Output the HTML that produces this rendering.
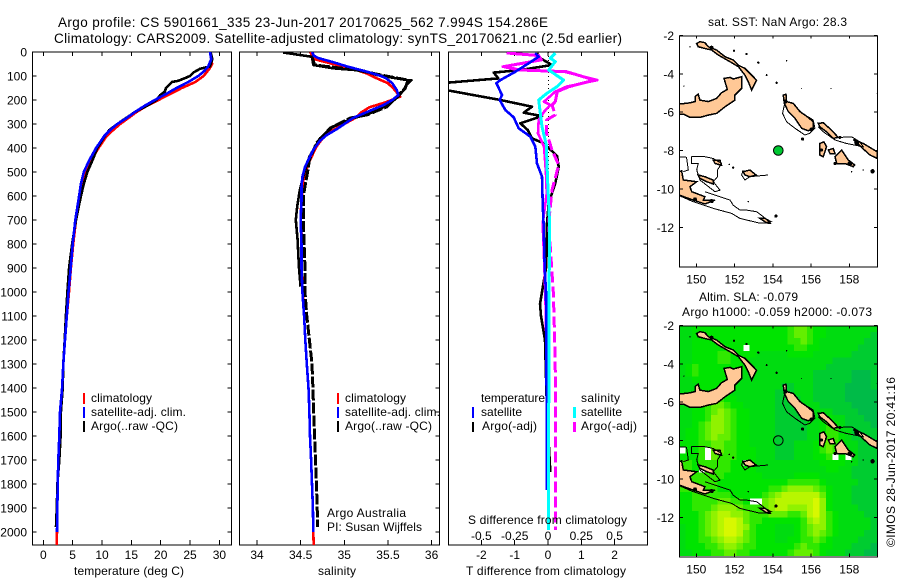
<!DOCTYPE html>
<html lang="en">
<head>
<meta charset="utf-8">
<title>Argo profile 5901661_335</title>
<style>
html,body{margin:0;padding:0;background:#fff;}
svg{display:block;}
text{font-family:"Liberation Sans",sans-serif;font-size:12px;fill:#000;}
</style>
</head>
<body>
<svg id="figure" xmlns="http://www.w3.org/2000/svg" width="900" height="580" viewBox="0 0 900 580">
  <defs>
    <clipPath id="clip-t"><rect x="32" y="52" width="199.5" height="493"/></clipPath>
    <clipPath id="clip-s"><rect x="239" y="52" width="200.5" height="493"/></clipPath>
    <clipPath id="clip-d"><rect x="448" y="52" width="199.5" height="493"/></clipPath>
    <clipPath id="clip-m1"><rect x="679" y="35" width="198.5" height="232"/></clipPath>
    <clipPath id="clip-m2"><rect x="679" y="325" width="198.5" height="232"/></clipPath>
  </defs>
  <g id="plots"></g>
  <text x="58" y="27" textLength="490" lengthAdjust="spacing" style="font-size:13.5px">Argo profile: CS 5901661_335 23-Jun-2017 20170625_562 7.994S 154.286E</text>
  <text x="54" y="43" textLength="568" lengthAdjust="spacing" style="font-size:13.5px">Climatology: CARS2009. Satellite-adjusted climatology: synTS_20170621.nc (2.5d earlier)</text>
  <text x="74" y="575" textLength="110" lengthAdjust="spacing">temperature (deg C)</text>
  <text x="318" y="575" textLength="38" lengthAdjust="spacing">salinity</text>
  <text x="466" y="575" textLength="160" lengthAdjust="spacing">T difference from climatology</text>
  <text x="468" y="524" textLength="159" lengthAdjust="spacing">S difference from climatology</text>
  <g>
    <rect x="83" y="393" width="2" height="11" fill="#f00"/>
    <rect x="83" y="407" width="2" height="11" fill="#00f"/>
    <rect x="83" y="421" width="2" height="11" fill="#000"/>
    <text x="91" y="402" textLength="61" lengthAdjust="spacing">climatology</text>
    <text x="91" y="416" textLength="95" lengthAdjust="spacing">satellite-adj. clim.</text>
    <text x="91" y="430" textLength="87" lengthAdjust="spacing">Argo(..raw -QC)</text>
  </g>
  <g>
    <rect x="337" y="393" width="2" height="11" fill="#f00"/>
    <rect x="337" y="407" width="2" height="11" fill="#00f"/>
    <rect x="337" y="421" width="2" height="11" fill="#000"/>
    <text x="345" y="402" textLength="61" lengthAdjust="spacing">climatology</text>
    <text x="345" y="416" textLength="95" lengthAdjust="spacing">satellite-adj. clim.</text>
    <text x="345" y="430" textLength="87" lengthAdjust="spacing">Argo(..raw -QC)</text>
    <text x="327" y="517" textLength="79" lengthAdjust="spacing">Argo Australia</text>
    <text x="327" y="531" textLength="95" lengthAdjust="spacing">PI: Susan Wijffels</text>
  </g>
  <g>
    <text x="481" y="402" textLength="64" lengthAdjust="spacing">temperature</text>
    <text x="581" y="402" textLength="39" lengthAdjust="spacing">salinity</text>
    <rect x="472" y="407" width="2" height="11" fill="#00f"/>
    <rect x="472" y="422" width="2" height="10" fill="#000"/>
    <rect x="573" y="407" width="3" height="11" fill="#0ff"/>
    <rect x="573" y="422" width="3" height="10" fill="#f0f"/>
    <text x="481" y="416" textLength="41" lengthAdjust="spacing">satellite</text>
    <text x="482" y="430" textLength="55" lengthAdjust="spacing">Argo(-adj)</text>
    <text x="581" y="416" textLength="41" lengthAdjust="spacing">satellite</text>
    <text x="581" y="430" textLength="56" lengthAdjust="spacing">Argo(-adj)</text>
  </g>
  <text x="708" y="26" textLength="139" lengthAdjust="spacing">sat. SST: NaN Argo: 28.3</text>
  <text x="699" y="301" textLength="99" lengthAdjust="spacing">Altim. SLA: -0.079</text>
  <text x="682" y="316" textLength="190" lengthAdjust="spacing">Argo h1000: -0.059 h2000: -0.073</text>
  <text transform="translate(895 547) rotate(-90)" textLength="170" lengthAdjust="spacing">©IMOS 28-Jun-2017 20:41:16</text>
</svg>
<script>
// ---------- chart data ----------
const depthTicks = [0,100,200,300,400,500,600,700,800,900,1000,1100,1200,1300,1400,1500,1600,1700,1800,1900,2000];
const tempTicks = [0,5,10,15,20,25,30];
const salTicks = [34,34.5,35,35.5,36];
const tDiffTicks = [-2,-1,0,1,2];
const sDiffTicks = [-0.5,-0.25,0,0.25,0.5];
const sDiffTickLabels = ['-0.5','-0.25','0','0.25','0.5'];
const lonTicks = [150,152,154,156,158];
const latTicks = [-2,-4,-6,-8,-10,-12];

const tempClimDepths = [0,50,70,100,125,150,175,200,225,250,275,300,325,350,400,450,500,550,600,700,800,900,1000,1100,1200,1300,1400,1500,1600,1700,1800,2000,2055];
const tempClimValues = [28.5,28.75,28.3,27.3,25.9,23.6,21.6,19.6,17.6,15.9,14.5,13.1,11.9,10.8,9.4,8.2,7.3,6.65,6.25,5.57,5.1,4.7,4.37,4.0,3.7,3.4,3.2,2.85,2.73,2.56,2.45,2.33,2.27];
const tempSatDepths = [0,30,60,80,100,125,150,175,200,225,250,275,300,325,350,400,450,500,550,600,700,800,900,1000,1100,1200,1300,1400,1500,1600,1700,1800,2000];
const tempSatValues = [28.4,28.6,28.1,27.4,26.4,24.7,22.7,20.9,19.0,17.2,15.6,14.2,12.6,11.4,10.4,9.0,7.85,6.9,6.4,6.1,5.45,5.0,4.66,4.3,4.0,3.7,3.4,3.2,2.85,2.73,2.56,2.45,2.33];
const tempArgoDepths = [0,30,60,70,85,100,120,125,150,165,180,200,225,250,275,300,325,350,400,450,500,550,600,700,800,900,1000,1100,1200,1300,1400,1500,1600,1700,1800,1900,1980];
const tempArgoValues = [28.5,28.8,28.4,26.7,25.6,25,23,21.9,20.9,20.7,19.9,19.3,17.6,15.6,14.1,12.6,11.25,10.5,9.2,8.4,7.5,6.9,6.4,5.57,4.9,4.4,4.1,3.85,3.65,3.4,3.3,3.0,2.95,2.72,2.4,2.3,2.16];

const salClimDepths = [0,15,30,50,70,90,103,130,151,186,210,230,250,272,318,346,394,464,533,617,686,756,894,978,1100,1200,1300,1400,1500,1600,1700,1800,1900,2000,2055];
const salClimValues = [34.61,34.63,34.66,34.87,35.1,35.26,35.33,35.5,35.56,35.64,35.47,35.29,35.2,35.14,34.91,34.78,34.68,34.59,34.53,34.51,34.5,34.51,34.51,34.52,34.54,34.553,34.57,34.59,34.6,34.607,34.62,34.63,34.64,34.645,34.65];
const salSatDepths = [0,15,25,40,60,82,100,110,130,158,179,200,221,250,275,300,320,346,370,408,440,479,520,562,620,700,800,900,1000,1100,1200,1300,1400,1500,1600,1700,1800,1900,2000];
const salSatValues = [34.63,34.65,34.7,34.85,35.03,35.26,35.42,35.48,35.55,35.6,35.62,35.55,35.45,35.26,35.1,35.0,34.92,34.8,34.72,34.645,34.6,34.55,34.52,34.51,34.51,34.5,34.51,34.51,34.52,34.54,34.553,34.57,34.59,34.6,34.607,34.62,34.63,34.64,34.645];
const salArgoRawDepths = [2,20,54,68,78,96,117,117,138,158,186,221,262,276,311,360,436,492,575,644,700,783,894,978];
const salArgoRawValues = [34.3,34.63,34.645,34.87,35.22,35.37,35.72,35.77,35.71,35.68,35.62,35.5,35.25,35.1,34.87,34.72,34.6,34.55,34.49,34.46,34.445,34.465,34.48,34.5];
const salArgoQcDepths = [20,54,75,103,117,150,179,228,262,275,317,380,450,500,600,700,800,900,1000,1100,1200,1300,1400,1500,1600,1700,1800,1900,1980];
const salArgoQcValues = [34.63,34.66,35.14,35.52,35.73,35.7,35.62,35.49,35.26,35.07,34.84,34.68,34.6,34.58,34.53,34.53,34.54,34.55,34.55,34.57,34.6,34.63,34.64,34.65,34.66,34.67,34.68,34.69,34.695];

const diffTempSatDepths = [5,19,47,82,117,130,179,200,242,272,318,353,394,464,519,631,728,900,1000,1200,1500,1825];
const diffTempSatValues = [-0.38,-0.28,-0.58,-0.98,-1.43,-1.55,-1.38,-1.45,-1.28,-1.03,-0.88,-0.53,-0.38,-0.33,-0.18,-0.16,-0.13,-0.1,-0.06,-0.05,-0.04,-0.04];
const diffTempArgoDepths = [5,26,54,75,86,110,130,155,200,228,253,267,297,325,360,380,433,478,547,630,714,800,900,1000,1050,1100,1200,1350,1500,1650,1750];
const diffTempArgoValues = [-0.33,-0.23,0.12,-0.83,-1.63,-1.49,-3.2,-3.2,-1.43,-0.48,-0.73,-0.18,-0.83,-0.61,-0.48,-0.13,0.27,0.32,0.22,0.02,-0.03,-0.03,-0.06,-0.18,-0.24,-0.21,-0.09,-0.06,-0.03,0.03,0.07];
const diffSalSatDepths = [5,26,40,75,117,144,172,200,255,311,387,533,714,1000,1300,1700,1992];
const diffSalSatValues = [0.055,0.017,0.055,0.005,0.117,0.068,-0.008,-0.07,-0.058,-0.045,-0.013,-0.003,0.012,0.008,0.006,0.005,0.005];
const diffSalArgoRawDepths = [5,15,33,61,75,82,117,144,165,207,221,249,283,339,394,505,589,714,1000,1300,1650];
const diffSalArgoRawValues = [-0.31,-0.08,-0.06,-0.34,-0.23,0.12,0.37,0.14,0.055,-0.03,0.017,-0.03,-0.07,-0.075,-0.03,-0.015,-0.01,-0.04,-0.02,-0.01,0.005];
const diffSalArgoUpperDepths = [5,15,33,61,75,82,117,144,165,207];
const diffSalArgoUpperValues = [-0.29,-0.07,-0.05,-0.33,-0.21,0.14,0.35,0.16,0.07,0.055];
const diffSalArgoQcDepths = [207,221,262,283,339,408,471,575,714,1000,1200,1400,1700,1992];
const diffSalArgoQcValues = [0.055,0.03,0.055,-0.01,-0.01,0.03,0.08,0.03,0.005,0.04,0.05,0.057,0.055,0.055];

const argoLon = 154.286;
const argoLat = -7.994;

// sea-level-anomaly colour level per grid cell, north to south (null = no data)
const _ = null;
const slaLevels = [
[3,3,4,4,4,4,4,4,4,4,4,4,4,4,4,4,4,5,6,6,5,4,4,3,3,3,3,3,3,3,3],
[3,3,4,_,4,4,4,4,4,4,4,4,4,4,4,4,4,5,6,6,5,4,4,3,3,3,3,3,3,3,2],
[3,3,4,4,4,4,4,4,4,4,4,4,4,4,4,4,4,5,5,6,5,4,3,3,3,3,3,3,3,2,2],
[3,3,4,4,4,4,4,4,4,4,_,4,4,4,4,4,4,4,5,5,4,4,3,3,3,3,3,3,2,2,2],
[3,3,4,4,4,4,5,5,4,4,4,4,3,3,3,3,3,4,4,4,4,3,3,3,3,3,3,2,2,2,2],
[3,3,4,4,4,4,5,5,4,4,4,3,3,3,3,3,3,3,3,3,3,3,3,3,2,2,2,2,2,2,2],
[3,4,5,4,4,4,4,4,4,4,4,3,3,3,3,3,3,3,3,3,3,3,3,2,2,2,2,2,2,2,2],
[3,4,5,4,4,4,4,4,4,4,3,3,3,3,3,3,3,3,3,3,3,2,2,2,2,2,2,1,1,1,2],
[3,3,4,4,4,4,4,4,4,3,3,3,3,3,3,3,3,3,3,3,3,2,2,2,2,2,2,1,1,1,2],
[3,3,3,4,4,4,4,4,4,3,3,3,3,3,3,3,2,2,3,3,3,2,2,2,2,2,1,1,1,1,2],
[3,3,3,4,4,4,4,4,3,3,3,3,3,3,3,2,2,2,3,3,3,2,2,2,2,2,1,1,1,1,1],
[3,3,3,4,4,5,5,4,4,3,3,3,3,3,3,2,2,2,2,3,3,2,2,2,2,2,1,1,1,1,1],
[3,3,3,4,5,6,6,5,4,4,3,3,3,3,3,2,2,2,2,3,3,3,2,2,2,2,2,1,1,1,1],
[3,3,4,4,5,6,7,6,5,4,4,3,3,3,3,2,2,2,2,2,3,3,3,3,2,2,2,2,1,1,1],
[3,3,4,4,5,7,7,6,5,4,4,3,3,3,3,2,2,2,2,2,3,3,4,4,3,3,2,2,2,1,1],
[3,3,4,5,6,7,7,6,5,4,4,3,3,3,3,2,2,2,2,2,3,3,4,5,4,3,2,2,2,2,1],
[3,4,4,5,6,7,7,6,5,4,4,3,3,3,3,2,2,2,2,2,3,3,4,5,5,3,3,2,2,2,2],
[3,4,4,5,6,7,6,6,5,4,4,3,3,3,3,2,2,2,2,2,3,3,4,5,5,4,3,2,2,2,2],
[4,4,4,5,5,6,6,5,5,4,4,3,3,3,3,2,2,2,3,3,3,4,5,6,5,4,3,3,2,2,2],
[_,4,4,5,_,6,6,5,5,4,4,4,3,3,3,2,2,2,3,3,3,4,5,6,5,4,3,3,2,2,2],
[4,4,4,5,_,6,5,5,5,4,4,4,3,3,3,2,2,2,3,3,3,4,4,5,_,4,_,3,2,2,2],
[5,5,4,5,5,5,5,5,4,4,_,4,3,3,3,3,3,3,3,3,3,3,4,4,4,4,3,3,2,2,2],
[5,5,4,_,5,5,5,5,4,4,4,4,3,3,3,3,3,3,3,3,3,3,3,4,4,3,3,2,2,2,2],
[5,5,5,5,5,5,5,4,4,4,4,4,4,3,3,3,3,3,4,4,4,4,3,3,3,3,3,2,2,2,2],
[5,5,5,5,5,5,4,4,4,4,4,4,4,4,4,4,4,5,5,5,5,5,4,3,3,3,3,3,2,2,2],
[5,5,5,5,5,5,4,4,4,4,4,4,4,4,5,5,6,7,7,7,7,6,5,4,3,3,3,2,2,2,2],
[4,4,5,5,5,5,5,5,4,4,4,4,4,5,6,7,8,8,8,8,8,8,6,4,3,3,3,2,2,2,2],
[4,4,5,5,5,5,6,6,5,5,4,_,_,6,7,8,8,8,8,8,8,9,7,4,3,3,3,2,2,2,2],
[4,4,5,5,5,6,7,7,7,6,5,5,5,6,7,8,8,7,7,7,8,9,7,4,3,3,3,3,2,2,2],
[4,4,4,5,6,7,8,8,7,7,6,5,5,5,6,6,6,5,5,6,8,9,7,5,4,3,3,3,3,2,2],
[4,4,4,5,6,7,8,9,9,8,6,5,5,4,4,4,4,4,4,5,7,8,7,5,4,3,3,3,3,3,2],
[3,4,4,5,6,7,8,9,9,8,7,5,4,4,4,3,3,3,4,5,6,7,7,5,4,3,3,3,3,3,2],
[3,4,4,5,6,7,8,9,9,8,6,5,4,4,4,3,3,3,4,5,6,7,6,5,4,3,3,3,3,2,2],
[3,4,4,5,5,6,7,8,8,7,6,5,4,4,4,3,3,4,4,5,5,6,5,4,3,3,3,3,2,2,2],
[3,4,4,4,5,5,6,7,7,6,5,5,4,4,4,4,4,4,5,6,5,5,4,4,3,3,3,2,2,2,1],
[3,3,4,4,4,5,5,6,6,5,5,4,4,4,4,4,4,5,6,6,6,5,4,3,3,3,2,2,2,1,1]
];
const slaPalette = ['#00a85c','#00bb48','#00cc30','#00dc10','#00e400','#30e800','#64ee00','#90f200','#b8f600','#d8f800'];
const slaGridWest = 149.11;
const slaGridStepDeg = 1/3;

// coast polygons, lon/lat pairs
const landPolygons = [
[[150.02,-2.42],[150.19,-2.33],[150.45,-2.38],[150.63,-2.59],[151.06,-2.76],[151.5,-3.11],[151.93,-3.28],[152.2,-3.55],[152.54,-3.72],[152.89,-4.07],[153.15,-4.33],[152.89,-4.85],[152.72,-4.41],[152.54,-4.07],[152.2,-3.63],[151.76,-3.37],[151.15,-3.02],[150.8,-2.76],[150.45,-2.68],[150.1,-2.59]],
[[149.11,-5.58],[149.67,-5.51],[149.93,-5.45],[149.93,-5.19],[150.1,-5.06],[150.19,-5.37],[150.63,-5.45],[151.06,-5.28],[151.32,-4.99],[151.62,-4.81],[151.45,-4.24],[151.76,-4.19],[151.93,-4.27],[152.37,-4.15],[152.37,-4.76],[152.02,-5.11],[152.02,-5.37],[151.5,-5.72],[151.06,-6.06],[150.63,-6.15],[150.19,-6.27],[149.67,-6.27],[149.32,-6.1],[149.11,-6.1]],
[[154.55,-5.11],[154.69,-5.07],[154.72,-5.45],[155.07,-5.54],[155.42,-5.97],[155.85,-6.27],[156.11,-6.5],[156.11,-6.84],[155.85,-6.97],[155.51,-6.84],[155.16,-6.32],[154.81,-5.97],[154.6,-5.54]],
[[156.38,-6.58],[156.64,-6.55],[157.07,-6.93],[157.42,-7.31],[157.16,-7.36],[156.81,-7.02],[156.46,-6.76]],
[[158.21,-7.42],[158.73,-7.63],[159.46,-8.06],[159.46,-8.41],[159.08,-8.23],[158.55,-7.75]],
[[156.46,-7.63],[156.67,-7.54],[156.81,-7.8],[156.64,-8.32],[156.46,-8.23]],
[[156.9,-7.97],[157.16,-7.89],[157.25,-8.15],[156.99,-8.15]],
[[157.25,-8.32],[157.6,-7.97],[157.94,-8.49],[158.29,-8.75],[158.21,-8.84],[157.77,-8.67],[157.34,-8.67]],
[[149.11,-9.1],[149.23,-9.05],[149.32,-9.53],[150.02,-9.62],[149.67,-9.88],[149.76,-10.14],[150.45,-10.4],[150.37,-10.58],[150.98,-10.58],[150.45,-10.78],[149.84,-10.58],[149.11,-10.32]],
[[150.1,-9.27],[150.45,-9.36],[150.89,-9.54],[150.89,-9.74],[150.54,-9.62],[150.19,-9.45]],
[[150.89,-8.5],[151.24,-8.5],[151.32,-8.76],[150.98,-8.67]],
[[153.33,-11.53],[153.59,-11.53],[153.88,-11.7],[153.68,-11.76]],
[[152.46,-9.1],[152.8,-9.01],[153.12,-9.27],[152.8,-9.36],[152.54,-9.27]]
];
const reefLines = [
[[149.11,-10.35],[149.84,-10.66],[150.89,-11.01],[151.85,-11.27],[152.28,-11.53],[153.24,-11.76],[153.88,-11.79],[153.5,-11.44],[153.15,-11.18],[152.63,-11.1],[152.28,-11.1],[151.93,-10.84],[151.76,-10.58],[150.98,-10.32],[150.45,-10.14]],
[[149.11,-8.32],[149.49,-8.35],[149.58,-9.01],[149.32,-9.1]],
[[149.76,-8.32],[150.45,-8.32],[150.89,-8.41],[151.32,-8.67],[151.11,-9.01],[151.11,-9.36],[150.89,-9.62],[151.24,-10.06],[150.98,-10.14],[150.19,-9.53],[150.02,-9.01],[150.1,-8.67],[149.76,-8.67],[149.76,-8.32]],
[[154.6,-5.63],[154.51,-6.06],[154.72,-6.5],[155.16,-6.84],[155.68,-7.19],[155.94,-7.1],[156.2,-6.84],[156.11,-6.41],[155.85,-6.24]],
[[156.38,-6.76],[156.64,-7.02],[157.25,-7.45],[157.86,-7.63],[158.73,-7.8],[158.55,-7.54],[158.12,-7.28],[157.51,-7.31]],
[[152.46,-9.01],[152.37,-9.27],[152.54,-9.53],[152.8,-9.36],[153.76,-9.27]]
];
const isletLons = [149.67,151.97,152.63,153.24,153.68,154.2,154.72,149.35,155.51,157.04,155.56,154.16,159.22,158.12,158.73,151.93,151.72,152.72,159.46,154.66,156.03,158.38,150.8,149.93,150.8,157.51,156.55,158.03,157.25];
const isletLats = [-2.59,-2.8,-2.97,-3.42,-4.07,-4.47,-3.32,-4.64,-4.76,-4.76,-7.4,-11.41,-9.08,-9.1,-9.01,-8.89,-8.72,-10.66,-5.02,-5.45,-6.9,-7.59,-2.64,-10.54,-10.63,-7.31,-7.97,-8.67,-8.67];
const isletSizes = [0.7,1.2,1.2,1.2,1,1.2,0.7,0.7,0.5,0.5,1.6,1.6,2.2,0.7,0.7,1.2,0.7,0.7,0.5,2,2,2.4,2,2,2,1.5,1.5,2.4,1.5];

// ---------- axis functions ----------
const yDepth = d => 52 + d * 0.24;
const xTemp = t => 43.3 + t * 5.87;
const xSal = s => 257 + (s - 34) * 87.3;
const xTDiff = t => 548 + t * 33.3;
const xSDiff = s => 548 + s * 133.2;
const xLon = l => 696.3 + (l - 150) * 19.125;
const yLat = (lat, top) => top + (-2 - lat) * 19.2;

// ---------- helpers ----------
const NS = 'http://www.w3.org/2000/svg';
const root = document.getElementById('plots');
function make(tag, attrs, parent) {
  const el = document.createElementNS(NS, tag);
  for (const k in attrs) el.setAttribute(k, attrs[k]);
  (parent || root).appendChild(el);
  return el;
}
function tick(parent, x1, y1, x2, y2) {
  const el = make('line', {x1: x1, y1: y1, x2: x2, y2: y2, stroke: '#000', 'stroke-width': 1, 'shape-rendering': 'crispEdges'}, parent);
  
  
}
function label(parent, x, y, str, anchor) {
  const el = make('text', {x: x, y: y, 'text-anchor': anchor}, parent);
  el.textContent = str;
  
  
}
function frame(parent, x, y, w, h) {
  const el = make('rect', {x: x, y: y, width: w, height: h, fill: 'none', stroke: '#000', 'stroke-width': 1, 'shape-rendering': 'crispEdges'}, parent);
  
  
}
function series(parent, xFn, depths, values, color, width, dash, name) {
  const pts = depths.map((d, i) => xFn(values[i]).toFixed(1) + ',' + yDepth(d).toFixed(1)).join(' ');
  const attrs = {points: pts, fill: 'none', stroke: color, 'stroke-width': width, 'stroke-linejoin': 'round', 'shape-rendering': 'crispEdges'};
  if (dash) attrs['stroke-dasharray'] = dash;
  const el = make('polyline', attrs, parent);
  
  
}
function profilePanel(name, clipId, left, right, xFn, xTicks, xLabels, showDepthLabels, showLeftTicks) {
  const g = make('g', {});
  
  
  const top = 52, bottom = 545;
  frame(g, left, top, right - left, bottom - top);
  depthTicks.forEach(d => {
    if (showLeftTicks) tick(g, left, yDepth(d), left + 4, yDepth(d));
    tick(g, right - 4, yDepth(d), right, yDepth(d));
    if (showDepthLabels) label(g, 27, yDepth(d) + 4.5, String(d), 'end');
  });
  xTicks.forEach((v, i) => {
    tick(g, xFn(v), top, xFn(v), top + 4);
    tick(g, xFn(v), bottom - 5, xFn(v), bottom);
    label(g, xFn(v), 559, xLabels[i], 'middle');
  });
  const c = make('g', {'clip-path': 'url(#' + clipId + ')'}, g);
  
  
  return c;
}

// ---------- temperature panel ----------
const tempG = profilePanel('temperature-panel', 'clip-t', 32.5, 231.5, xTemp, tempTicks, tempTicks.map(String), true, true);
series(tempG, xTemp, tempClimDepths, tempClimValues, '#f00', 2.6, null, 'temperature-climatology-line');
series(tempG, xTemp, tempArgoDepths, tempArgoValues, '#000', 2.6, null, 'temperature-argo-line');
series(tempG, xTemp, tempSatDepths, tempSatValues, '#00f', 2.6, null, 'temperature-satellite-line');

// ---------- salinity panel ----------
const salG = profilePanel('salinity-panel', 'clip-s', 239.5, 439.5, xSal, salTicks, salTicks.map(String), false, false);
series(salG, xSal, salClimDepths, salClimValues, '#f00', 2.6, null, 'salinity-climatology-line');
series(salG, xSal, salArgoRawDepths, salArgoRawValues, '#000', 2.6, null, 'salinity-argo-raw-line');
series(salG, xSal, salArgoQcDepths, salArgoQcValues, '#000', 3, '11 2', 'salinity-argo-qc-line');
series(salG, xSal, salSatDepths, salSatValues, '#00f', 2.6, null, 'salinity-satellite-line');

// ---------- difference panel ----------
const diffG = profilePanel('difference-panel', 'clip-d', 448.5, 647.5, xTDiff, tDiffTicks, tDiffTicks.map(String), false, false);
const diffFrameGroup = diffG.parentNode;
sDiffTicks.forEach((v, i) => label(diffFrameGroup, xSDiff(v), 540, sDiffTickLabels[i], 'middle'));
const zeroLine = make('line', {x1: xTDiff(0) + 0.5, y1: 52, x2: xTDiff(0) + 0.5, y2: yDepth(2000), stroke: '#000', 'stroke-width': 1, 'stroke-dasharray': '1 3', 'shape-rendering': 'crispEdges'}, diffG);


series(diffG, xTDiff, diffTempArgoDepths, diffTempArgoValues, '#000', 2.6, null, 'difference-t-argo-line');
series(diffG, xSDiff, diffSalArgoRawDepths, diffSalArgoRawValues, '#f0f', 2.6, null, 'difference-s-argo-raw-line');
series(diffG, xSDiff, diffSalArgoUpperDepths, diffSalArgoUpperValues, '#f0f', 3, null, 'difference-s-argo-upper-line');
series(diffG, xSDiff, diffSalArgoQcDepths, diffSalArgoQcValues, '#f0f', 3, '11 4', 'difference-s-argo-qc-line');
series(diffG, xTDiff, diffTempSatDepths, diffTempSatValues, '#00f', 2.6, null, 'difference-t-satellite-line');
series(diffG, xSDiff, diffSalSatDepths, diffSalSatValues, '#0ff', 3, null, 'difference-s-satellite-line');

// ---------- maps ----------
function mapPanel(name, clipId, top, withHeat) {
  const g = make('g', {});
  
  
  const c = make('g', {'clip-path': 'url(#' + clipId + ')'}, g);
  
  
  if (withHeat) {
    const cellW = xLon(slaGridWest + slaGridStepDeg) - xLon(slaGridWest);
    const cellH = yLat(-2 - slaGridStepDeg, top) - yLat(-2, top);
    slaLevels.forEach((row, r) => row.forEach((lvl, col) => {
      if (lvl === null) return;
      const cell = make('rect', {x: xLon(slaGridWest + col * slaGridStepDeg).toFixed(2), y: yLat(-2 - r * slaGridStepDeg, top).toFixed(2), width: (cellW + 0.4).toFixed(2), height: (cellH + 0.4 - (r === slaLevels.length - 1 ? 0.4 : 0)).toFixed(2), fill: slaPalette[lvl], 'shape-rendering': 'crispEdges'}, c);
      
      
    }));
  }
  landPolygons.forEach(poly => {
    const el = make('polygon', {points: poly.map(p => xLon(p[0]).toFixed(1) + ',' + yLat(p[1], top).toFixed(1)).join(' '), fill: '#ffc896', stroke: '#000', 'stroke-width': 1.5, 'shape-rendering': 'crispEdges'}, c);
    
    
  });
  reefLines.forEach(line => {
    const el = make('polyline', {points: line.map(p => xLon(p[0]).toFixed(1) + ',' + yLat(p[1], top).toFixed(1)).join(' '), fill: 'none', stroke: '#000', 'stroke-width': 1, 'shape-rendering': 'crispEdges'}, c);
    
    
  });
  isletLons.forEach((lon, i) => {
    const el = make('circle', {cx: xLon(lon).toFixed(1), cy: yLat(isletLats[i], top).toFixed(1), r: isletSizes[i], fill: '#000', 'shape-rendering': 'crispEdges'}, c);
    
    
  });
  const marker = make('circle', {cx: xLon(argoLon).toFixed(1), cy: yLat(argoLat, top).toFixed(1), r: 4.8, fill: withHeat ? 'none' : '#00c832', stroke: '#000', 'stroke-width': 1}, c);
  
  
  const bottom = top + 231;
  frame(g, 679.5, top + 0.5, 198, 231);
  lonTicks.forEach(l => {
    tick(g, xLon(l), top, xLon(l), top + 3);
    tick(g, xLon(l), bottom - 3, xLon(l), bottom);
    label(g, xLon(l), bottom + 17, String(l), 'middle');
  });
  latTicks.forEach(l => {
    tick(g, 679.5, yLat(l, top), 683, yLat(l, top));
    tick(g, 874, yLat(l, top), 877.5, yLat(l, top));
    label(g, 674, yLat(l, top) + 4.5, String(l), 'end');
  });
}
mapPanel('sst-map', 'clip-m1', 35.4, false);
mapPanel('sla-map', 'clip-m2', 325.4, true);
</script>
</body>
</html>
